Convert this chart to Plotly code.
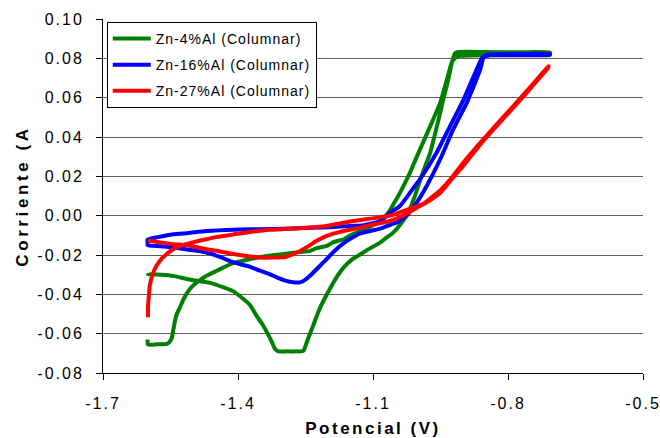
import plotly.graph_objects as go

# ---------------- data ----------------
series_names = ["Zn-4%Al (Columnar)", "Zn-16%Al (Columnar)", "Zn-27%Al (Columnar)"]

green_V = [-1.601, -1.600, -1.570, -1.544, -1.514, -1.492, -1.462, -1.432, -1.410, -1.388,
           -1.373, -1.359, -1.345, -1.336, -1.325, -1.318, -1.310, -1.290, -1.270, -1.255,
           -1.245, -1.233, -1.218, -1.196, -1.180, -1.165, -1.145, -1.128, -1.110, -1.084,
           -1.070, -1.055, -1.036, -1.022, -1.007, -0.996, -0.985, -0.973, -0.958, -0.944,
           -0.933, -0.925, -0.918, -0.910, -0.850, -0.780, -0.707, -0.707, -0.800, -0.880,
           -0.905, -0.914, -0.920, -0.925, -0.936, -0.951, -0.973, -0.999, -1.018, -1.025,
           -1.040, -1.055, -1.066, -1.084, -1.100, -1.128, -1.150, -1.165, -1.188, -1.203,
           -1.225, -1.240, -1.262, -1.299, -1.336, -1.373, -1.410, -1.447, -1.470, -1.492,
           -1.507, -1.520, -1.529, -1.536, -1.540, -1.544, -1.547, -1.552, -1.558, -1.580,
           -1.600, -1.601]
green_I = [-0.0292, -0.0297, -0.0300, -0.0306, -0.0322, -0.0331, -0.0342, -0.0365, -0.0385, -0.0424,
           -0.0455, -0.0508, -0.0555, -0.0592, -0.0640, -0.0677, -0.0690, -0.0690, -0.0690, -0.0688,
           -0.0630, -0.0559, -0.0470, -0.0373, -0.0310, -0.0263, -0.0220, -0.0196, -0.0170, -0.0137,
           -0.0112, -0.0086, -0.0035, 0.0015, 0.0099, 0.0175, 0.0245, 0.0319, 0.0454, 0.0589,
           0.0690, 0.0775, 0.0825, 0.0832, 0.0832, 0.0831, 0.0830, 0.0822, 0.0818, 0.0815,
           0.0813, 0.0810, 0.0795, 0.0780, 0.0690, 0.0572, 0.0454, 0.0319, 0.0218, 0.0184,
           0.0116, 0.0057, 0.0015, -0.0027, -0.0048, -0.0078, -0.0100, -0.0120, -0.0135, -0.0154,
           -0.0165, -0.0179, -0.0185, -0.0195, -0.0205, -0.0221, -0.0240, -0.0280, -0.0306, -0.0340,
           -0.0373, -0.0420, -0.0466, -0.0500, -0.0534, -0.0584, -0.0620, -0.0642, -0.0652, -0.0654,
           -0.0655, -0.0630]

blue_V = [-1.601, -1.601, -1.573, -1.544, -1.510, -1.470, -1.440, -1.410, -1.373, -1.351,
          -1.330, -1.314, -1.295, -1.277, -1.262, -1.250, -1.240, -1.222, -1.203, -1.185,
          -1.165, -1.145, -1.128, -1.110, -1.084, -1.060, -1.047, -1.025, -1.003, -0.981,
          -0.951, -0.922, -0.892, -0.862, -0.855, -0.848, -0.800, -0.750, -0.707, -0.707,
          -0.780, -0.840, -0.856, -0.870, -0.899, -0.929, -0.959, -0.996, -1.018, -1.040,
          -1.062, -1.084, -1.121, -1.151, -1.188, -1.240, -1.300, -1.351, -1.410, -1.470,
          -1.510, -1.544, -1.575, -1.601, -1.601]
blue_I = [-0.0140, -0.0150, -0.0155, -0.0162, -0.0173, -0.0187, -0.0210, -0.0238, -0.0260, -0.0280,
          -0.0297, -0.0314, -0.0330, -0.0339, -0.0339, -0.0325, -0.0306, -0.0265, -0.0221, -0.0178,
          -0.0140, -0.0110, -0.0090, -0.0080, -0.0066, -0.0045, -0.0035, 0.0000, 0.0066, 0.0150,
          0.0285, 0.0437, 0.0572, 0.0741, 0.0800, 0.0818, 0.0821, 0.0822, 0.0822, 0.0817,
          0.0816, 0.0815, 0.0808, 0.0741, 0.0589, 0.0454, 0.0319, 0.0184, 0.0116, 0.0049,
          0.0015, -0.0027, -0.0048, -0.0052, -0.0058, -0.0062, -0.0066, -0.0069, -0.0071, -0.0078,
          -0.0088, -0.0095, -0.0108, -0.0122, -0.0140]

red_V = [-1.600, -1.600, -1.598, -1.596, -1.590, -1.581, -1.570, -1.559, -1.540, -1.522,
         -1.499, -1.470, -1.447, -1.410, -1.373, -1.330, -1.299, -1.262, -1.225, -1.188,
         -1.151, -1.121, -1.090, -1.062, -1.025, -0.988, -0.970, -0.951, -0.922, -0.899,
         -0.855, -0.810, -0.766, -0.736, -0.710, -0.712, -0.738, -0.768, -0.812, -0.857,
         -0.900, -0.925, -0.951, -0.975, -0.996, -1.033, -1.062, -1.100, -1.128, -1.165,
         -1.203, -1.225, -1.247, -1.277, -1.295, -1.320, -1.351, -1.373, -1.410, -1.440,
         -1.470, -1.514, -1.544, -1.575, -1.600]
red_I = [-0.0516, -0.0460, -0.0407, -0.0356, -0.0300, -0.0255, -0.0220, -0.0196, -0.0165, -0.0150,
         -0.0135, -0.0120, -0.0108, -0.0095, -0.0083, -0.0072, -0.0068, -0.0064, -0.0058, -0.0046,
         -0.0030, -0.0020, -0.0010, 0.0000, 0.0030, 0.0060, 0.0092, 0.0128, 0.0202, 0.0270,
         0.0388, 0.0502, 0.0614, 0.0692, 0.0760, 0.0748, 0.0680, 0.0600, 0.0490, 0.0375,
         0.0252, 0.0186, 0.0115, 0.0076, 0.0049, 0.0000, -0.0027, -0.0045, -0.0061, -0.0078,
         -0.0103, -0.0128, -0.0160, -0.0196, -0.0210, -0.0213, -0.0213, -0.0208, -0.0195, -0.0182,
         -0.0171, -0.0150, -0.0145, -0.0135, -0.0127]

x_tickvals = [-1.7, -1.4, -1.1, -0.8, -0.5]
x_ticklabels = ["-1.7", "-1.4", "-1.1", "-0.8", "-0.5"]
y_tickvals = [-0.08, -0.06, -0.04, -0.02, 0.00, 0.02, 0.04, 0.06, 0.08, 0.10]
y_ticklabels = ["-0.08", "-0.06", "-0.04", "-0.02", "0.00", "0.02", "0.04", "0.06", "0.08", "0.10"]

x_title = "Potencial (V)"
y_title = "Corriente (A"

# ---------------- figure ----------------
FONT = "Liberation Sans, Arial, sans-serif"


def spaced(t, px):
    return '<span style="letter-spacing:%.1fpx">%s</span>' % (px, t)


colors = ["#008000", "#0000FF", "#FF0000"]
fig = go.Figure()
for name, xs, ys, c in zip(series_names, [green_V, blue_V, red_V], [green_I, blue_I, red_I], colors):
    fig.add_trace(go.Scatter(
        x=xs, y=ys, mode="lines", name=spaced(name, 1.0), legendgroup=name,
        line=dict(color=c, width=4, shape="spline", smoothing=0.5), hoverinfo="skip"))

fig.update_layout(
    width=660, height=438,
    margin=dict(l=103, r=17, t=19, b=65, autoexpand=False),
    paper_bgcolor="white", plot_bgcolor="white",
    font=dict(family=FONT, color="black", size=16),
    showlegend=True,
    legend=dict(
        x=0.007, y=0.992, xanchor="left", yanchor="top",
        bgcolor="white", bordercolor="black", borderwidth=1,
        font=dict(family=FONT, size=14, color="black"),
        tracegroupgap=5, traceorder="grouped", itemwidth=38,
    ),
)

fig.update_xaxes(
    range=[-1.7, -0.5], tickmode="array", tickvals=x_tickvals,
    ticktext=[spaced(t, 2) for t in x_ticklabels],
    showgrid=False, zeroline=False, automargin=False,
    showline=True, linecolor="black", linewidth=1,
    ticks="outside", ticklen=6, tickcolor="black", tickwidth=1,
    ticklabelstandoff=10, ticklabeloverflow="allow",
    tickfont=dict(family=FONT, size=16, color="black"),
    title=dict(text="<b>" + spaced(x_title, 2.5) + "</b>", standoff=10,
               font=dict(family=FONT, size=17, color="black")),
)
fig.update_yaxes(
    range=[-0.08, 0.10], tickmode="array", tickvals=y_tickvals,
    ticktext=[spaced(t, 2) for t in y_ticklabels],
    showgrid=True, gridcolor="#5f5f5f", gridwidth=1, zeroline=False, automargin=False,
    showline=True, linecolor="black", linewidth=1,
    ticks="outside", ticklen=6, tickcolor="black", tickwidth=1,
    ticklabelstandoff=9, ticklabeloverflow="allow",
    tickfont=dict(family=FONT, size=16, color="black"),
    title=dict(text="<b>" + spaced(y_title, 3.6) + "</b>", standoff=4,
               font=dict(family=FONT, size=17, color="black")),
)

fig.write_html("out.html")
